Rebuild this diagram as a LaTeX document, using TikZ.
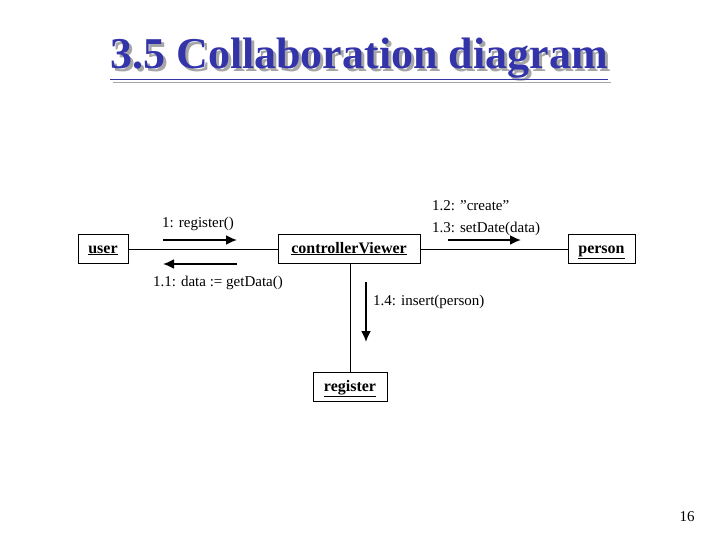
\documentclass[tikz,border=0pt]{standalone}
\usepackage{fontspec}
\setmainfont{Liberation Serif}
\usetikzlibrary{arrows.meta}
\begin{document}
\begin{tikzpicture}[x=1pt,y=-1pt,
  obj/.style={draw,thick,fill=white,inner sep=0pt,minimum height=29pt,text height=11pt,text depth=3pt,font=\fontsize{16}{18}\selectfont\bfseries},
  lbl/.style={font=\fontsize{15}{17}\selectfont,inner sep=0pt},
  msg/.style={-{Latex[length=11pt,width=10pt]},line width=1.8pt}]
\useasboundingbox (0,0) rectangle (720,540);
\node[text=gray!70,font=\fontsize{44}{48}\selectfont\bfseries] (tsh) at (362,62) {\underline{3.5 Collaboration diagram}};
\node[text={rgb,255:red,51;green,51;blue,170},font=\fontsize{44}{48}\selectfont\bfseries] (title) at (359,59) {\underline{3.5 Collaboration diagram}};
\node[obj,minimum width=50pt] (user) at (103,249) {\underline{user}};
\node[obj,minimum width=142pt] (cv) at (349,249) {\underline{controllerViewer}};
\node[obj,minimum width=67pt] (person) at (601.5,249) {\underline{person}};
\node[obj,minimum width=74pt] (reg) at (350,387) {\underline{register}};
\draw (user) -- (cv);
\draw (cv) -- (person);
\draw (cv.south -| reg.north) -- (reg);
\coordinate (a1s) at (163,240); \coordinate (a1e) at (237,240);
\draw[msg] (a1s) -- (a1e);
\coordinate (a2s) at (237,264); \coordinate (a2e) at (163,264);
\draw[msg] (a2s) -- (a2e);
\coordinate (a3s) at (448,240); \coordinate (a3e) at (521,240);
\draw[msg] (a3s) -- (a3e);
\coordinate (a4s) at (366,282); \coordinate (a4e) at (366,342);
\draw[msg] (a4s) -- (a4e);
\node[lbl] (l1) at (198,224) {1: register()};
\node[lbl] (l11) at (218,283) {1.1: data := getData()};
\node[lbl,anchor=west] (l12) at (432,206) {1.2: "create"};
\node[lbl,anchor=west] (l13) at (432,229) {1.3: setDate(data)};
\node[lbl,anchor=west] (l14) at (373,302) {1.4: insert(person)};
\node[lbl] (pg) at (687,517) {16};
\end{tikzpicture}
\end{document}
